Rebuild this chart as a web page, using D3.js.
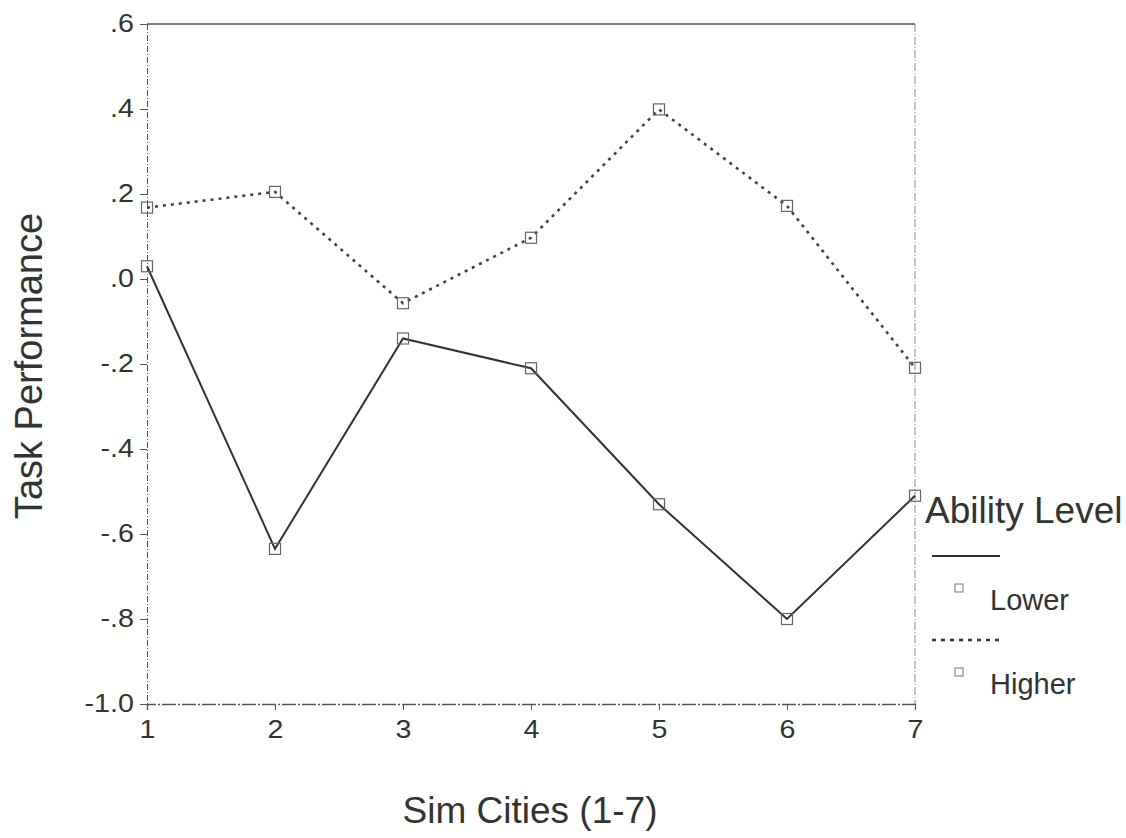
<!DOCTYPE html>
<html>
<head>
<meta charset="utf-8">
<script src="https://cdn.jsdelivr.net/npm/d3@7"></script>
<style>
    body { margin: 0; background: #fff; }
    svg { font-family: "Liberation Sans", Arial, sans-serif; }
    .axis path, .axis line { stroke: #555; }
    .axis text { fill: #333; font-size: 26px; }
</style>
</head>
<body>
<svg id="chart" width="1126" height="838"></svg>
<script>
// chart values
const cities = [1, 2, 3, 4, 5, 6, 7];
const lower = [0.03, -0.635, -0.14, -0.21, -0.53, -0.80, -0.51];
const higher = [0.168, 0.205, -0.057, 0.097, 0.399, 0.172, -0.209];
const yTicks = [0.6, 0.4, 0.2, 0.0, -0.2, -0.4, -0.6, -0.8, -1.0];
const seriesNames = ["Lower", "Higher"];

drawChart();

function drawChart() {
    var svg = d3.select("#chart");

    var x = d3.scaleLinear().domain([1, 7]).range([147, 915]);
    var y = d3.scaleLinear().domain([-1, 0.6]).range([704, 24]);

    //strip the leading zero like ".6" and "-.2", plain hyphen for minus
    var fmt = v => v.toFixed(1).replace(/^(-?)0\./, "$1.");

    // frame: top solid, others dash-dot like the scan
    svg.append("line")
        .attr("x1", x(1)).attr("x2", x(7))
        .attr("y1", y(0.6)).attr("y2", y(0.6))
        .attr("stroke", "#555").attr("stroke-width", 1.6);
    svg.append("line")
        .attr("x1", x(7)).attr("x2", x(7))
        .attr("y1", y(0.6)).attr("y2", y(-1))
        .attr("stroke", "#888").attr("stroke-width", 1)
        .attr("stroke-dasharray", "8,2,1,2");

    // y axis
    var gy = svg.append("g")
        .attr("class", "axis")
        .attr("transform", "translate(" + x(1) + ",0)")
        .call(d3.axisLeft(y).tickValues(yTicks).tickFormat(fmt).tickSize(7).tickPadding(5));
    gy.select(".domain")
        .attr("stroke", "#999")
        .attr("stroke-dasharray", "6,2,1,2");
    gy.selectAll("text")
        .attr("dy", "0.28em")
        .attr("transform", "scale(1.1,1)");

    // x axis
    var gx = svg.append("g")
        .attr("class", "axis")
        .attr("transform", "translate(0," + y(-1) + ")")
        .call(d3.axisBottom(x).tickValues(cities).tickFormat(d3.format("d")).tickSize(6).tickPadding(10));
    gx.select(".domain")
        .attr("stroke", "#555")
        .attr("stroke-width", 1.4)
        .attr("stroke-dasharray", "14,2,2,2");
    gx.selectAll("text")
        .attr("transform", "scale(1.1,1)");

    // lines
    var line = d3.line()
        .x((d, i) => x(cities[i]))
        .y(d => y(d));

    svg.append("path")
        .datum(lower)
        .attr("fill", "none")
        .attr("stroke", "#333")
        .attr("stroke-width", 2)
        .attr("d", line);

    svg.append("path")
        .datum(higher)
        .attr("fill", "none")
        .attr("stroke", "#444")
        .attr("stroke-width", 2.6)
        .attr("stroke-dasharray", "3,5")
        .attr("d", line);

    // square markers
    [lower, higher].forEach(function(vals) {
        svg.selectAll(null)
            .data(vals)
            .enter().append("rect")
            .attr("x", (d, i) => x(cities[i]) - 5.5)
            .attr("y", d => y(d) - 5.5)
            .attr("width", 11)
            .attr("height", 11)
            .attr("fill", "none")
            .attr("stroke", "#666")
            .attr("stroke-width", 1.2);
    });

    // axis titles
    svg.append("text")
        .attr("transform", "translate(42,366) rotate(-90)")
        .attr("text-anchor", "middle")
        .attr("font-size", 38)
        .attr("fill", "#333")
        .text("Task Performance");

    svg.append("text")
        .attr("x", 530)
        .attr("y", 823)
        .attr("text-anchor", "middle")
        .attr("font-size", 37)
        .attr("fill", "#333")
        .text("Sim Cities (1-7)");

    // legend
    var lg = svg.append("g").attr("transform", "translate(925,0)");
    lg.append("text")
        .attr("x", 0).attr("y", 523)
        .attr("font-size", 37)
        .attr("fill", "#333")
        .text("Ability Level");

    seriesNames.forEach(function(name, i) {
        var top = 556 + i * 84;
        lg.append("line")
            .attr("x1", 7).attr("x2", 75)
            .attr("y1", top).attr("y2", top)
            .attr("stroke", "#333")
            .attr("stroke-width", i == 0 ? 2 : 2.4)
            .attr("stroke-dasharray", i == 0 ? null : "4,5");
        lg.append("rect")
            .attr("x", 30).attr("y", top + 28)
            .attr("width", 8).attr("height", 8)
            .attr("fill", "none")
            .attr("stroke", "#777")
            .attr("stroke-width", 1);
        lg.append("text")
            .attr("x", 65).attr("y", top + 54)
            .attr("font-size", 29)
            .attr("fill", "#333")
            .text(name);
    });
}
</script>
</body>
</html>
